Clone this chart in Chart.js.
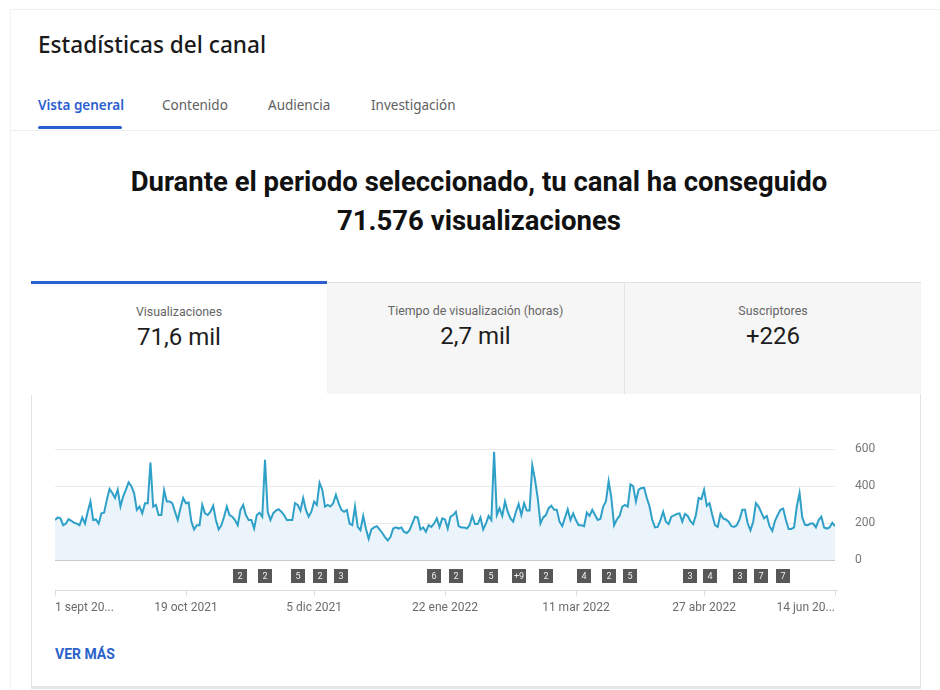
<!DOCTYPE html>
<html lang="es">
<head>
<meta charset="utf-8">
<title>Estadísticas del canal</title>
<script src="https://cdn.jsdelivr.net/npm/chart.js@4.4.0/dist/chart.umd.min.js"></script>
<style>
  html, body { margin: 0; padding: 0; background: #fff; }
  body { width: 940px; height: 690px; position: relative; overflow: hidden; font-family: Roboto, Arial, sans-serif; }
  .abs { position: absolute; }
  .outer { left: 10px; top: 9px; width: 960px; height: 700px; border-top: 1px solid #eee; border-left: 1px solid #f2f2f2; }
  .title { left: 38px; top: 29px; font-family: "Noto Sans", sans-serif; font-size: 22.6px; font-weight: 500; color: #1a1a1a; }
  .tab { top: 96px; font-family: "Noto Sans", sans-serif; font-size: 13.5px; color: #606060; }
  .tab.on { color: #2c5fd0; font-weight: 600; }
  .tabline { left: 38px; top: 126px; width: 84px; height: 3px; background: #2c5fd0; border-radius: 2px; }
  .divider { left: 10px; top: 130px; width: 930px; height: 1px; background: #eee; }
  .headline { left: 0; width: 958px; text-align: center; font-family: Roboto, sans-serif; font-weight: 700; font-size: 27.5px; color: #111; }
  .card { left: 31px; top: 282px; width: 888px; height: 403px; border: 1px solid #e2e2e2; border-bottom: 3px solid #e6e6e6; }
  .mtab { top: 282px; height: 111px; text-align: center; }
  .mtab .lbl { margin-top: 20px; font-size: 12.4px; color: #666; }
  .mtab .val { margin-top: 4px; font-size: 24px; color: #1d1d1d; }
  .more { left: 55px; top: 646px; font-size: 14px; font-weight: 700; color: #2a62c9; }
  #chartBox { left: 31px; top: 393px; width: 889px; height: 240px; }
</style>
</head>
<body>
<div class="abs outer"></div>
<div class="abs title">Estadísticas del canal</div>
<div class="abs tab on" style="left:38px">Vista general</div>
<div class="abs tab" style="left:162px">Contenido</div>
<div class="abs tab" style="left:268px">Audiencia</div>
<div class="abs tab" style="left:371px">Investigación</div>
<div class="abs tabline"></div>
<div class="abs divider"></div>
<div class="abs headline" style="top:165px">Durante el periodo seleccionado, tu canal ha conseguido</div>
<div class="abs headline" style="top:204px">71.576 visualizaciones</div>

<div class="abs card"></div>
<div class="abs mtab" style="left:31px;width:296px;background:#fff;border-top:3px solid #2c5fd0;top:281px;">
  <div class="lbl">Visualizaciones</div><div class="val">71,6 mil</div>
</div>
<div class="abs mtab" style="left:327px;width:297px;background:#f6f6f6;border-top:1px solid #e2e2e2;">
  <div class="lbl">Tiempo de visualización (horas)</div><div class="val">2,7 mil</div>
</div>
<div class="abs mtab" style="left:624px;width:296px;background:#f6f6f6;border-top:1px solid #e2e2e2;border-left:1px solid #e4e4e4;">
  <div class="lbl">Suscriptores</div><div class="val">+226</div>
</div>

<div class="abs" id="chartBox"><canvas id="viewsChart" width="889" height="240"></canvas></div>
<div class="abs more">VER MÁS</div>

<script>
// daily views, 1 sept 2021 .. 14 jun 2022 (287 days)
const VIEWS = [
  216,230,225,188,197,221,212,201,197,188,230,197,261,316,216,219,197,252,256,325,384,362,335,380,
  289,344,380,420,399,362,271,289,252,307,307,527,289,298,243,243,377,316,316,307,261,216,280,335,
  307,311,207,165,188,188,298,252,243,261,293,216,165,188,234,289,243,234,216,188,271,298,243,216,
  216,170,243,256,234,541,261,216,252,267,274,261,243,216,216,216,307,298,267,335,271,234,261,316,
  298,417,380,289,298,289,307,353,307,271,261,271,197,188,289,179,161,238,170,115,165,176,183,165,
  146,124,106,124,170,176,170,176,152,146,161,197,234,230,165,176,152,188,179,197,225,179,225,219,
  170,234,243,261,183,176,176,170,188,238,194,194,230,165,197,238,216,585,243,280,238,316,261,225,
  207,261,303,243,307,267,267,512,435,335,197,230,243,280,293,271,271,207,183,230,274,216,252,216,
  188,188,183,256,238,271,243,216,223,289,316,426,335,188,219,238,289,298,289,408,399,316,380,389,
  390,335,289,216,176,179,216,261,207,194,234,241,249,252,207,249,238,210,194,243,335,329,380,293,
  307,243,188,179,249,225,219,207,183,179,188,219,271,271,197,161,207,307,289,256,225,238,183,157,
  212,243,271,278,216,168,168,176,289,362,230,190,188,197,197,176,216,234,176,170,176,201,183
];

// x axis tick labels (day index from 1 sept 2021)
const TICK_DAYS = [0, 48, 95, 143, 191, 238, 286];
const TICK_LABELS = ['1 sept 20...', '19 oct 2021', '5 dic 2021', '22 ene 2022', '11 mar 2022', '27 abr 2022', '14 jun 20...'];

const Y_TICKS = [0, 200, 400, 600];

// published videos markers under the chart
const VIDEO_DAYS = [68, 77, 89, 97, 105, 139, 147, 160, 170, 180, 194, 203, 211, 233, 240, 251, 259, 267];
const VIDEO_COUNTS = ['2', '2', '5', '2', '3', '6', '2', '5', '+9', '2', '4', '2', '5', '3', '4', '3', '7', '7'];

const LINE_COLOR = '#2fa0c7';
const FILL_COLOR = '#eaf4fa';

const points = VIEWS.map((v, i) => ({ x: i, y: v }));

// draws the little video boxes, the separator line and tick marks
const videoMarkers = {
    id: 'videoMarkers',
    afterDraw(chart) {
        const ctx = chart.ctx;
        const xs = chart.scales.x;
        const area = chart.chartArea;
        const lineY = area.bottom + 30.5;

        ctx.save();
        ctx.strokeStyle = '#dcdcdc';
        ctx.lineWidth = 1;
        ctx.beginPath();
        ctx.moveTo(area.left, lineY);
        ctx.lineTo(area.right + 3, lineY);
        TICK_DAYS.forEach(d => {
            const px = Math.round(xs.getPixelForValue(d)) + 0.5;
            ctx.moveTo(px, lineY);
            ctx.lineTo(px, lineY + 5);
        });
        ctx.stroke();

        ctx.font = '9px Roboto';
        ctx.textAlign = 'center';
        ctx.textBaseline = 'middle';
        VIDEO_DAYS.forEach((d, i) => {
            const cx = Math.round(xs.getPixelForValue(d));
            const cy = area.bottom + 16;
            ctx.fillStyle = '#575757';
            ctx.fillRect(cx - 7, cy - 7, 14, 14);
            ctx.fillStyle = '#f0f0f0';
            ctx.fillText(VIDEO_COUNTS[i], cx, cy + 0.5);
        });
        ctx.restore();
    }
};

const ctx = document.getElementById('viewsChart').getContext('2d');
new Chart(ctx, {
    type: 'line',
    data: {
        datasets: [{
            data: points,
            borderColor: LINE_COLOR,
            borderWidth: 2,
            backgroundColor: FILL_COLOR,
            fill: 'origin',
            pointRadius: 0,
            tension: 0
        }]
    },
    options: {
        responsive: false,
        animation: false,
        maintainAspectRatio: false,
        layout: { padding: { left: 24, right: 35, top: 56, bottom: 15 } },
        plugins: { legend: { display: false }, tooltip: { enabled: false } },
        scales: {
            x: {
                type: 'linear',
                min: 0,
                max: VIEWS.length - 1,
                // invisible tick marks only push the labels down
                grid: { display: true, drawOnChartArea: false, drawTicks: true, tickLength: 41, color: 'rgba(0,0,0,0)' },
                border: { display: false },
                afterBuildTicks: s => { s.ticks = TICK_DAYS.map(v => ({ value: v })); },
                afterFit: s => { s.height = 58; },
                ticks: {
                    autoSkip: false,
                    maxRotation: 0,
                    align: 'inner',
                    padding: 0,
                    color: '#6b6b6b',
                    font: { family: 'Roboto', size: 12 },
                    callback: v => TICK_LABELS[TICK_DAYS.indexOf(v)]
                }
            },
            y: {
                position: 'right',
                min: 0,
                max: 600,
                afterBuildTicks: s => { s.ticks = Y_TICKS.map(v => ({ value: v })); },
                afterFit: s => { s.width = 50; },
                grid: {
                    drawTicks: false,
                    color: c => c.tick && c.tick.value === 0 ? '#c9c9c9' : '#ebebeb'
                },
                border: { display: false },
                ticks: {
                    padding: 20,
                    color: '#777',
                    font: { family: 'Roboto', size: 12 }
                }
            }
        }
    },
    plugins: [videoMarkers]
});
</script>
</body>
</html>
